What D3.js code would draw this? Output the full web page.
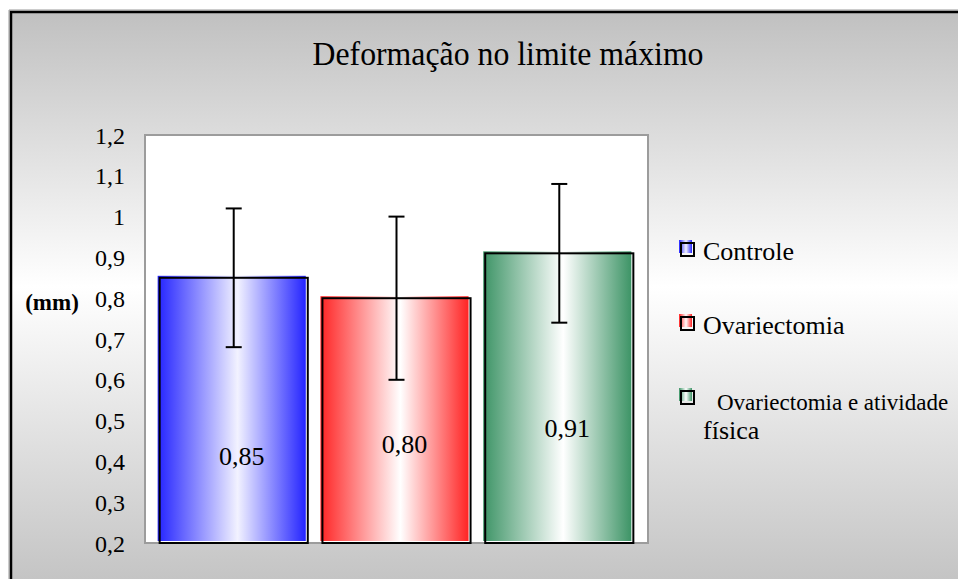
<!DOCTYPE html>
<html>
<head>
<meta charset="utf-8">
<script src="https://cdn.jsdelivr.net/npm/d3@7"></script>
<style>
  body { margin: 0; background: #fff; }
  text { font-family: "Liberation Serif", "Times New Roman", serif; fill: #000; }
</style>
</head>
<body>
<svg width="958" height="579"></svg>
<script>
// data
const groups = ['Controle', 'Ovariectomia', 'Ovariectomia e atividade física'];
const means = [0.85, 0.80, 0.91];
const errors = [0.17, 0.20, 0.17];
const valueLabels = ['0,85', '0,80', '0,91'];
const yTicks = [0.2, 0.3, 0.4, 0.5, 0.6, 0.7, 0.8, 0.9, 1.0, 1.1, 1.2];
const yTickLabels = ['0,2', '0,3', '0,4', '0,5', '0,6', '0,7', '0,8', '0,9', '1', '1,1', '1,2'];

// layout bits (not data)
const colors = ['#2424ff', '#ff2424', '#3d9466'];
const centers = ['#f2f2ff', '#ffffff', '#ffffff'];
const labelAt = [0.39, 0.42, 0.46]; // where the value text sits, in axis units

const svg = d3.select('svg');
const plot = { left: 145, right: 648, top: 135, bottom: 543 };

const defs = svg.append('defs');
const bg = defs.append('linearGradient').attr('id', 'bg')
    .attr('x1', 0).attr('y1', 0).attr('x2', 0).attr('y2', 1);
bg.append('stop').attr('offset', '0%').attr('stop-color', '#c0c0c0');
bg.append('stop').attr('offset', '46%').attr('stop-color', '#ffffff');
bg.append('stop').attr('offset', '95%').attr('stop-color', '#c4c4c4');

colors.forEach((c, i) => {
  const g = defs.append('linearGradient').attr('id', 'bar' + i)
      .attr('x1', 0).attr('y1', 0).attr('x2', 1).attr('y2', 0);
  g.append('stop').attr('offset', '0%').attr('stop-color', c);
  g.append('stop').attr('offset', '54%').attr('stop-color', centers[i]);
  g.append('stop').attr('offset', '100%').attr('stop-color', c);
});

// chart area background + frame
svg.append('rect').attr('x', 10).attr('y', 11).attr('width', 960).attr('height', 600)
    .attr('fill', 'url(#bg)');
svg.append('line').attr('x1', 9).attr('x2', 958).attr('y1', 10).attr('y2', 10)
    .attr('stroke', '#999').attr('stroke-width', 1);
svg.append('line').attr('x1', 9).attr('x2', 9).attr('y1', 10).attr('y2', 579)
    .attr('stroke', '#999').attr('stroke-width', 1);
svg.append('rect').attr('x', 11).attr('y', 12).attr('width', 970).attr('height', 600)
    .attr('fill', 'none').attr('stroke', '#000').attr('stroke-width', 2.5);

svg.append('text')
    .attr('x', 508).attr('y', 65)
    .attr('text-anchor', 'middle')
    .attr('font-size', 33)
    .attr('textLength', 391).attr('lengthAdjust', 'spacingAndGlyphs')
    .text('Deformação no limite máximo');

// scales
const x = d3.scaleBand()
    .domain(groups)
    .range([plot.left, plot.right])
    .paddingInner(0.09)
    .paddingOuter(0.09);

const y = d3.scaleLinear()
    .domain([0.2, 1.2])
    .range([plot.bottom, plot.top]);

// plot area
svg.append('rect')
    .attr('x', plot.left).attr('y', plot.top)
    .attr('width', plot.right - plot.left).attr('height', plot.bottom - plot.top)
    .attr('fill', '#fff').attr('stroke', '#9c9c9c').attr('stroke-width', 2);

// y axis, labels only
const yAxis = svg.append('g')
    .attr('transform', `translate(${plot.left}, 0)`)
    .call(d3.axisLeft(y).tickValues(yTicks).tickSize(0).tickPadding(20)
        .tickFormat((d, i) => yTickLabels[i]));
yAxis.select('.domain').remove();
yAxis.selectAll('text')
    .attr('font-family', '"Liberation Serif", "Times New Roman", serif')
    .attr('font-size', 24).attr('fill', '#000').attr('dy', '0.34em');

svg.append('text')
    .attr('x', 52).attr('y', 310)
    .attr('text-anchor', 'middle')
    .attr('font-size', 23).attr('font-weight', 'bold')
    .text('(mm)');

// bars: coloured fill shifted up-left, black outline on top
svg.selectAll('.fill')
  .data(means)
  .enter().append('rect')
    .attr('class', 'fill')
    .attr('x', (d, i) => x(groups[i]) - 2)
    .attr('y', d => y(d) - 2)
    .attr('width', x.bandwidth())
    .attr('height', d => y(0.2) - y(d))
    .attr('fill', (d, i) => `url(#bar${i})`);

svg.selectAll('.outline')
  .data(means)
  .enter().append('rect')
    .attr('class', 'outline')
    .attr('x', (d, i) => x(groups[i]))
    .attr('y', d => y(d))
    .attr('width', x.bandwidth())
    .attr('height', d => y(0.2) - y(d))
    .attr('fill', 'none')
    .attr('stroke', '#000')
    .attr('stroke-width', 2);

// error bars
const err = svg.selectAll('.err')
  .data(means)
  .enter().append('g')
    .attr('class', 'err')
    .attr('transform', (d, i) => `translate(${x(groups[i]) + x.bandwidth() / 2}, 0)`);
err.append('line')
    .attr('y1', (d, i) => y(d + errors[i]))
    .attr('y2', (d, i) => y(d - errors[i]))
    .attr('stroke', '#000').attr('stroke-width', 2);
err.append('line')
    .attr('x1', -8).attr('x2', 8)
    .attr('y1', (d, i) => y(d + errors[i])).attr('y2', (d, i) => y(d + errors[i]))
    .attr('stroke', '#000').attr('stroke-width', 2);
err.append('line')
    .attr('x1', -8).attr('x2', 8)
    .attr('y1', (d, i) => y(d - errors[i])).attr('y2', (d, i) => y(d - errors[i]))
    .attr('stroke', '#000').attr('stroke-width', 2);

// value labels
svg.selectAll('.val')
  .data(valueLabels)
  .enter().append('text')
    .attr('class', 'val')
    .attr('x', (d, i) => x(groups[i]) + x.bandwidth() / 2 + 8)
    .attr('y', (d, i) => y(labelAt[i]))
    .attr('text-anchor', 'middle')
    .attr('font-size', 26)
    .text(d => d);

// legend
const legY = [243, 317, 391];
const leg = svg.selectAll('.leg')
  .data(groups)
  .enter().append('g')
    .attr('class', 'leg')
    .attr('transform', (d, i) => `translate(681, ${legY[i]})`);
leg.append('rect')
    .attr('x', -2).attr('y', -3).attr('width', 13).attr('height', 13)
    .attr('fill', (d, i) => `url(#bar${i})`);
leg.append('rect')
    .attr('x', 0).attr('y', 0).attr('width', 13).attr('height', 13)
    .attr('fill', 'none').attr('stroke', '#000').attr('stroke-width', 2);

svg.append('text').attr('x', 703).attr('y', 260).attr('font-size', 26).text('Controle');
svg.append('text').attr('x', 703).attr('y', 334).attr('font-size', 26).text('Ovariectomia');
svg.append('text').attr('x', 717).attr('y', 410).attr('font-size', 23)
    .text('Ovariectomia e atividade');
svg.append('text').attr('x', 703).attr('y', 439).attr('font-size', 26).text('física');
</script>
</body>
</html>
